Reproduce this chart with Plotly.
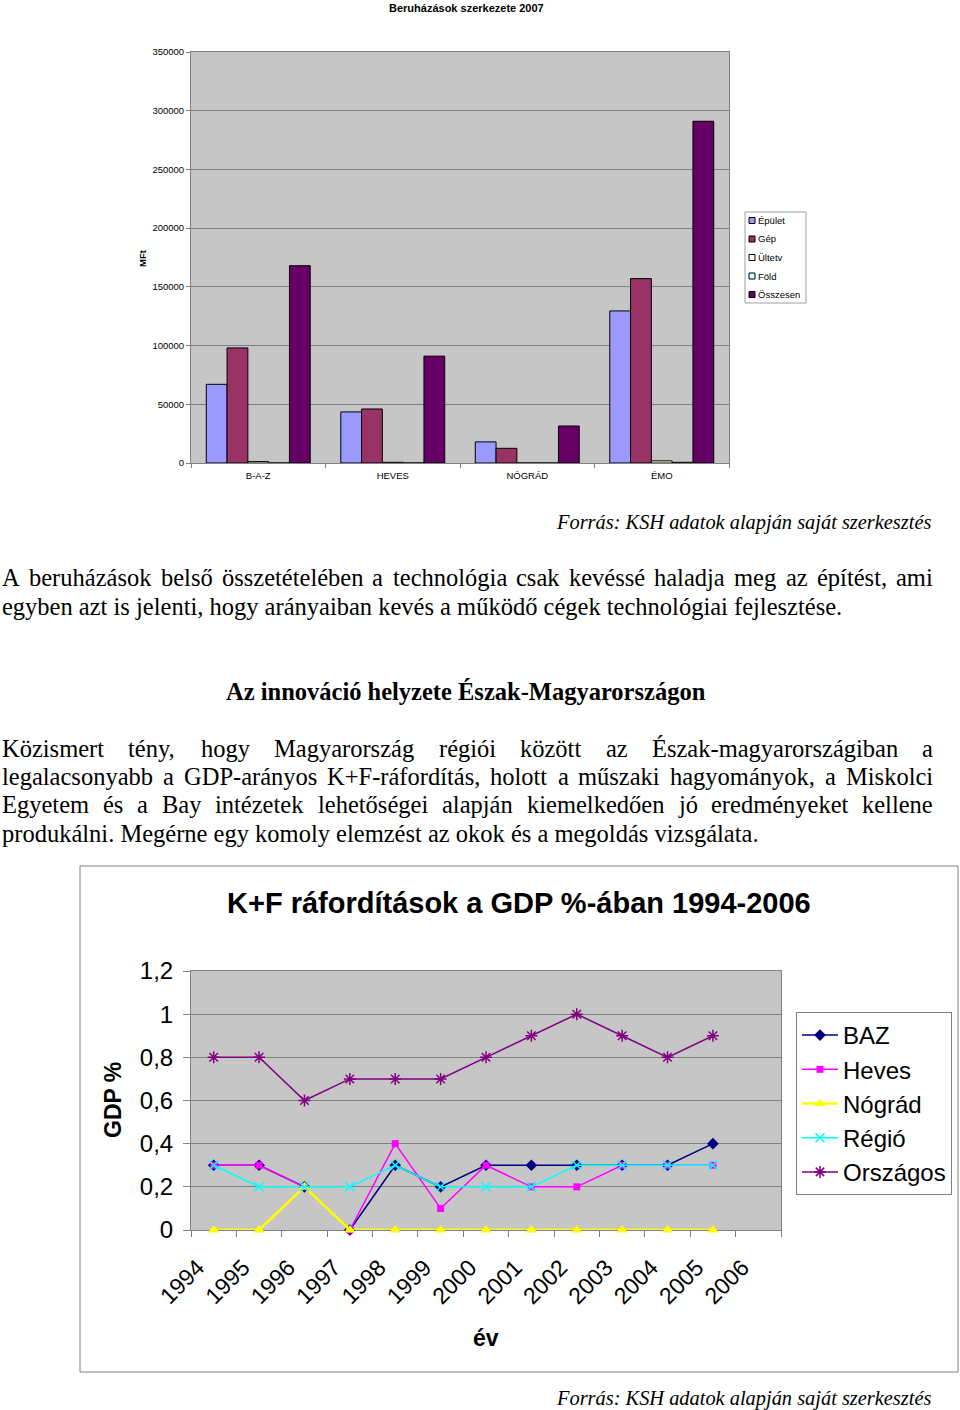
import unicodedata
import plotly.graph_objects as go

W, H = 960, 1410

# ---------------- data: bar chart ----------------
bar_categories = ["B-A-Z", "HEVES", "NÓGRÁD", "ÉMO"]
bar_series = ["Épület", "Gép", "Ültetv", "Föld", "Összesen"]
epulet = [67000, 43500, 18000, 129500]
gep = [98000, 46000, 12500, 157000]
ultetv = [1200, 600, 0, 1800]
fold = [0, 0, 0, 600]
osszesen = [168000, 91000, 31500, 291000]
bar_values = [epulet, gep, ultetv, fold, osszesen]
bar_colors = ["#9999FF", "#993366", "#FFFFEE", "#CCFFFF", "#660066"]
bar_yticks = [0, 50000, 100000, 150000, 200000, 250000, 300000, 350000]

# ---------------- data: line chart ----------------
years = ["1994", "1995", "1996", "1997", "1998", "1999", "2000",
         "2001", "2002", "2003", "2004", "2005", "2006"]
baz = [0.3, 0.3, 0.2, 0.0, 0.3, 0.2, 0.3, 0.3, 0.3, 0.3, 0.3, 0.4]
heves = [0.3, 0.3, 0.2, 0.0, 0.4, 0.1, 0.3, 0.2, 0.2, 0.3, 0.3, 0.3]
nograd = [0.0, 0.0, 0.2, 0.0, 0.0, 0.0, 0.0, 0.0, 0.0, 0.0, 0.0, 0.0]
regio = [0.3, 0.2, 0.2, 0.2, 0.3, 0.2, 0.2, 0.2, 0.3, 0.3, 0.3, 0.3]
orszagos = [0.8, 0.8, 0.6, 0.7, 0.7, 0.7, 0.8, 0.9, 1.0, 0.9, 0.8, 0.9]
line_names = ["BAZ", "Heves", "Nógrád", "Régió", "Országos"]
line_values = [baz, heves, nograd, regio, orszagos]
line_colors = ["#000080", "#FF00FF", "#FFFF00", "#00FFFF", "#800080"]
line_symbols = ["diamond", "square", "triangle-up", "x-thin", "asterisk"]

# ---------------- text ----------------
bar_title = "Beruházások szerkezete 2007"
line_title = "K+F ráfordítások a GDP %-ában 1994-2006"
source_text = "Forrás: KSH adatok alapján saját szerkesztés"
para1_lines = [
    "A beruházások belső összetételében a technológia csak kevéssé haladja meg az építést, ami",
    "egyben azt is jelenti, hogy arányaiban kevés a működő cégek technológiai fejlesztése.",
]
heading = "Az innováció helyzete Észak-Magyarországon"
para2_lines = [
    "Közismert tény, hogy Magyarország régiói között az Észak-magyarországiban a",
    "legalacsonyabb a GDP-arányos K+F-ráfordítás, holott a műszaki hagyományok, a Miskolci",
    "Egyetem és a Bay intézetek lehetőségei alapján kiemelkedően jó eredményeket kellene",
    "produkálni. Megérne egy komoly elemzést az okok és a megoldás vizsgálata.",
]

SANS = "Liberation Sans, Arial, sans-serif"
SERIF = "Liberation Serif, Times New Roman, serif"
BODY_SIZE = 24.5

# Times Roman advance widths (per 1000 em) for justification
_TW = dict(zip("abcdefghijklmnopqrstuvwxyz",
               [444, 500, 444, 500, 444, 333, 500, 500, 278, 278, 500, 278, 778,
                500, 500, 500, 500, 333, 389, 278, 500, 500, 722, 500, 500, 444]))
_TW.update(dict(zip("ABCDEFGHIJKLMNOPQRSTUVWXYZ",
                    [722, 667, 667, 722, 611, 556, 722, 722, 333, 389, 722, 611, 889,
                     722, 722, 556, 722, 667, 556, 611, 722, 722, 944, 722, 722, 611])))
_TW.update({" ": 250, ",": 250, ".": 250, "-": 333, "+": 564, ":": 278})


def text_width(s, size):
    tot = 0
    for ch in s:
        base = unicodedata.normalize("NFD", ch)[0]
        tot += _TW.get(base, 500)
    return tot / 1000.0 * size


def px(x):
    return x / W


def py(y):
    return 1 - y / H


fig = go.Figure()

# ---------------- bar chart ----------------
for name, vals, col in zip(bar_series, bar_values, bar_colors):
    fig.add_trace(go.Bar(
        x=bar_categories, y=vals, name=name, xaxis="x", yaxis="y",
        marker=dict(color=col, line=dict(color="#000000", width=1)),
        showlegend=False,
    ))

# ---------------- line chart ----------------
for name, vals, col, sym in zip(line_names, line_values, line_colors, line_symbols):
    open_sym = sym in ("x-thin", "asterisk")
    size = {"diamond": 9, "square": 7, "triangle-up": 10, "x-thin": 9, "asterisk": 10}[sym]
    marker = dict(symbol=sym, size=size, color=col,
                  line=dict(color=col, width=1.5 if open_sym else 0))
    fig.add_trace(go.Scatter(
        x=years[:len(vals)], y=vals, name=name, mode="lines+markers",
        xaxis="x2", yaxis="y2", line=dict(color=col, width=2.5 if sym == "triangle-up" else 1.5),
        marker=marker, legendgroup=name, showlegend=True, cliponaxis=False,
    ))

annotations = []
shapes = []


def ann(text, x, y, size, family=SANS, xanchor="center", angle=0):
    annotations.append(dict(text=text, x=px(x), y=py(y), xref="paper", yref="paper",
                            xanchor=xanchor, yanchor="middle", showarrow=False, borderpad=0,
                            textangle=angle, font=dict(family=family, size=size, color="#000")))


# bar chart texts
ann("<b>%s</b>" % bar_title, 466, 8, 11)
ann("<b>MFt</b>", 143, 258, 9.5, angle=-90)

# manual legend for bar chart
shapes.append(dict(type="rect", xref="paper", yref="paper", x0=px(745), x1=px(806), y0=py(212), y1=py(303),
                   line=dict(color="#A0A0A0", width=1), fillcolor="#FFFFFF"))
for k, (name, col) in enumerate(zip(bar_series, bar_colors)):
    yc = 220.5 + k * 18.5
    shapes.append(dict(type="rect", xref="paper", yref="paper", x0=px(749), x1=px(755),
                       y0=py(yc + 3), y1=py(yc - 3), line=dict(color="#000", width=1), fillcolor=col))
    ann(name, 757, yc, 9.5, xanchor="left")

# source lines
for ys in (523, 1398):
    ann("<i>%s</i>" % source_text, 932, ys, 20.4, family=SERIF, xanchor="right")


def add_justified(line, yc, left=1, right=932):
    words = line.split(" ")
    widths = [text_width(w, BODY_SIZE) for w in words]
    gap = (right - left - sum(widths)) / (len(words) - 1)
    x = left
    for w, wd in zip(words, widths):
        ann(w, x, yc, BODY_SIZE, family=SERIF, xanchor="left")
        x += wd + gap


add_justified(para1_lines[0], 577)
ann(para1_lines[1], 1, 606, BODY_SIZE, family=SERIF, xanchor="left")
ann("<b>%s</b>" % heading, 466, 691, BODY_SIZE, family=SERIF)
for j, ycen in enumerate([748, 776, 804]):
    add_justified(para2_lines[j], ycen)
ann(para2_lines[3], 1, 833, BODY_SIZE, family=SERIF, xanchor="left")

# line chart frame and texts
shapes.append(dict(type="rect", xref="paper", yref="paper", x0=px(80), x1=px(958), y0=py(866), y1=py(1372),
                   line=dict(color="#808080", width=1), fillcolor="rgba(0,0,0,0)", layer="below"))
ann("<b>%s</b>" % line_title, 519, 903, 29)
ann("<b>GDP %</b>", 113, 1100, 23, angle=-90)
ann("<b>év</b>", 486, 1338, 23)

PLOT_BG = "#C6C6C6"
GRID = "#808080"

fig.update_layout(
    width=W, height=H, autosize=False,
    margin=dict(l=0, r=0, t=0, b=0, pad=0, autoexpand=False),
    paper_bgcolor="#FFFFFF", plot_bgcolor=PLOT_BG,
    separators=",.",
    barmode="group", bargap=0.227, bargroupgap=0,
    font=dict(family=SANS, color="#000"),
    xaxis=dict(domain=[px(191), px(729)], anchor="y", type="category", range=[-0.5, 3.5],
               automargin=False, ticklabelstandoff=4,
               tickson="boundaries", ticks="outside", ticklen=4, tickcolor="#808080",
               showline=True, linecolor="#808080", mirror=True, showgrid=False,
               tickfont=dict(family=SANS, size=9.5, color="#000")),
    yaxis=dict(domain=[py(463), py(52)], anchor="x", range=[0, 350000], tickvals=bar_yticks,
               automargin=False,
               tickformat="d", ticks="outside", ticklen=4, tickcolor="#808080",
               showline=True, linecolor="#808080", mirror=True, gridcolor=GRID, gridwidth=1,
               zeroline=False, tickfont=dict(family=SANS, size=9.5, color="#000")),
    xaxis2=dict(domain=[px(191), px(781)], anchor="y2", type="category",
                automargin=False, layer="below traces",
                categoryorder="array", categoryarray=years, range=[-0.5, 12.5],
                tickson="boundaries", ticks="outside", ticklen=6, tickcolor="#808080",
                tickangle=-45, ticklabelshift=-16, ticklabelstandoff=14,
                showline=True, linecolor="#808080", mirror=True, showgrid=False,
                tickfont=dict(family=SANS, size=23, color="#000")),
    yaxis2=dict(domain=[py(1230), py(971)], anchor="x2", range=[0, 1.2], dtick=0.2,
                automargin=False, layer="below traces",
                ticks="outside", ticklen=7, tickcolor="#808080", ticklabelstandoff=5,
                showline=True, linecolor="#808080", mirror=True, gridcolor=GRID, gridwidth=1,
                zeroline=False, tickfont=dict(family=SANS, size=24, color="#000")),
    legend=dict(x=px(796), y=py(1012), xanchor="left", yanchor="top", bgcolor="#FFFFFF",
                bordercolor="#808080", borderwidth=1, font=dict(family=SANS, size=24, color="#000"),
                tracegroupgap=0, itemwidth=36),
    annotations=annotations, shapes=shapes,
)

fig.write_html("out.html")
